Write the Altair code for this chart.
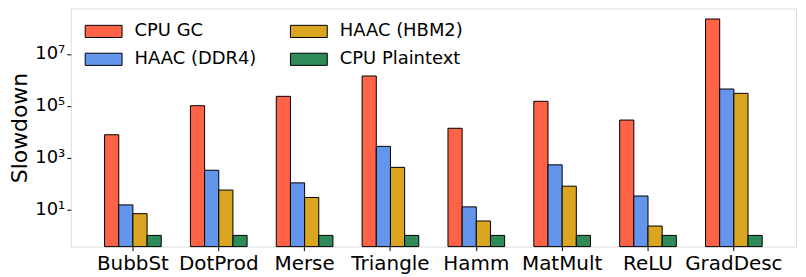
import altair as alt
import pandas as pd

categories = ["BubbSt", "DotProd", "Merse", "Triangle", "Hamm", "MatMult", "ReLU", "GradDesc"]
series = ["CPU GC", "HAAC (DDR4)", "HAAC (HBM2)", "CPU Plaintext"]
colors = ["#ff6347", "#6495ed", "#daa520", "#2e8b57"]

cpu_gc = [7600, 1.0e5, 2.3e5, 1.4e6, 13500, 1.48e5, 28000, 2.2e8]
haac_ddr4 = [15, 325, 106, 2700, 12.6, 525, 33, 4.4e5]
haac_hbm2 = [6.9, 56, 29, 420, 3.6, 79, 2.3, 3.0e5]
cpu_plain = [1, 1, 1, 1, 1, 1, 1, 1]

y_ticks = [10, 1000, 1e5, 1e7]
y_min, y_max = 0.37, 5.6e8

rows = []
for s, vals in zip(series, [cpu_gc, haac_ddr4, haac_hbm2, cpu_plain]):
    for c, v in zip(categories, vals):
        rows.append({"category": c, "series": s, "value": v})
df = pd.DataFrame(rows)

label_expr = ("datum.value >= 1e7 ? '10\u2077' : datum.value >= 1e5 ? '10\u2075' : "
              "datum.value >= 1e3 ? '10\u00b3' : '10\u00b9'")

chart = alt.Chart(df).mark_bar(stroke="black", strokeWidth=1).encode(
    x=alt.X("category:N", sort=categories,
            scale=alt.Scale(paddingInner=0.34, paddingOuter=0.394),
            axis=alt.Axis(title=None, labelAngle=0, labelFontSize=20, labelColor="black",
                          tickColor="black", tickSize=4, domain=False, labelPadding=3)),
    xOffset=alt.XOffset("series:N", sort=series,
                        scale=alt.Scale(paddingInner=0, paddingOuter=0)),
    y=alt.Y("value:Q", scale=alt.Scale(type="log", domain=[y_min, y_max], nice=False),
            axis=alt.Axis(title="Slowdown", titleFontSize=22, titleFontWeight="normal",
                          titleColor="black", titlePadding=3, values=y_ticks,
                          labelExpr=label_expr, labelFontSize=18, labelColor="black",
                          tickColor="black", tickSize=4, domain=False, grid=False,
                          labelPadding=2)),
    y2=alt.datum(y_min),
    fill=alt.Fill("series:N", scale=alt.Scale(domain=series, range=colors),
                  legend=alt.Legend(title=None, orient="none", legendX=23, legendY=13,
                                    columns=2, columnPadding=31, rowPadding=9,
                                    labelFontSize=18, labelColor="black",
                                    symbolType="M-2,-0.66L2,-0.66L2,0.66L-2,0.66Z",
                                    symbolSize=342, symbolStrokeColor="black",
                                    symbolStrokeWidth=1, symbolOpacity=1,
                                    labelOffset=21, padding=0)),
).properties(
    width=728, height=239,
    padding={"left": 0, "top": 0, "right": 2, "bottom": 0},
).configure_view(
    stroke="#999999", strokeWidth=1.5
).configure(
    font="DejaVu Sans"
)

chart.save("out.html", embed_options={"renderer": "svg", "actions": False})
